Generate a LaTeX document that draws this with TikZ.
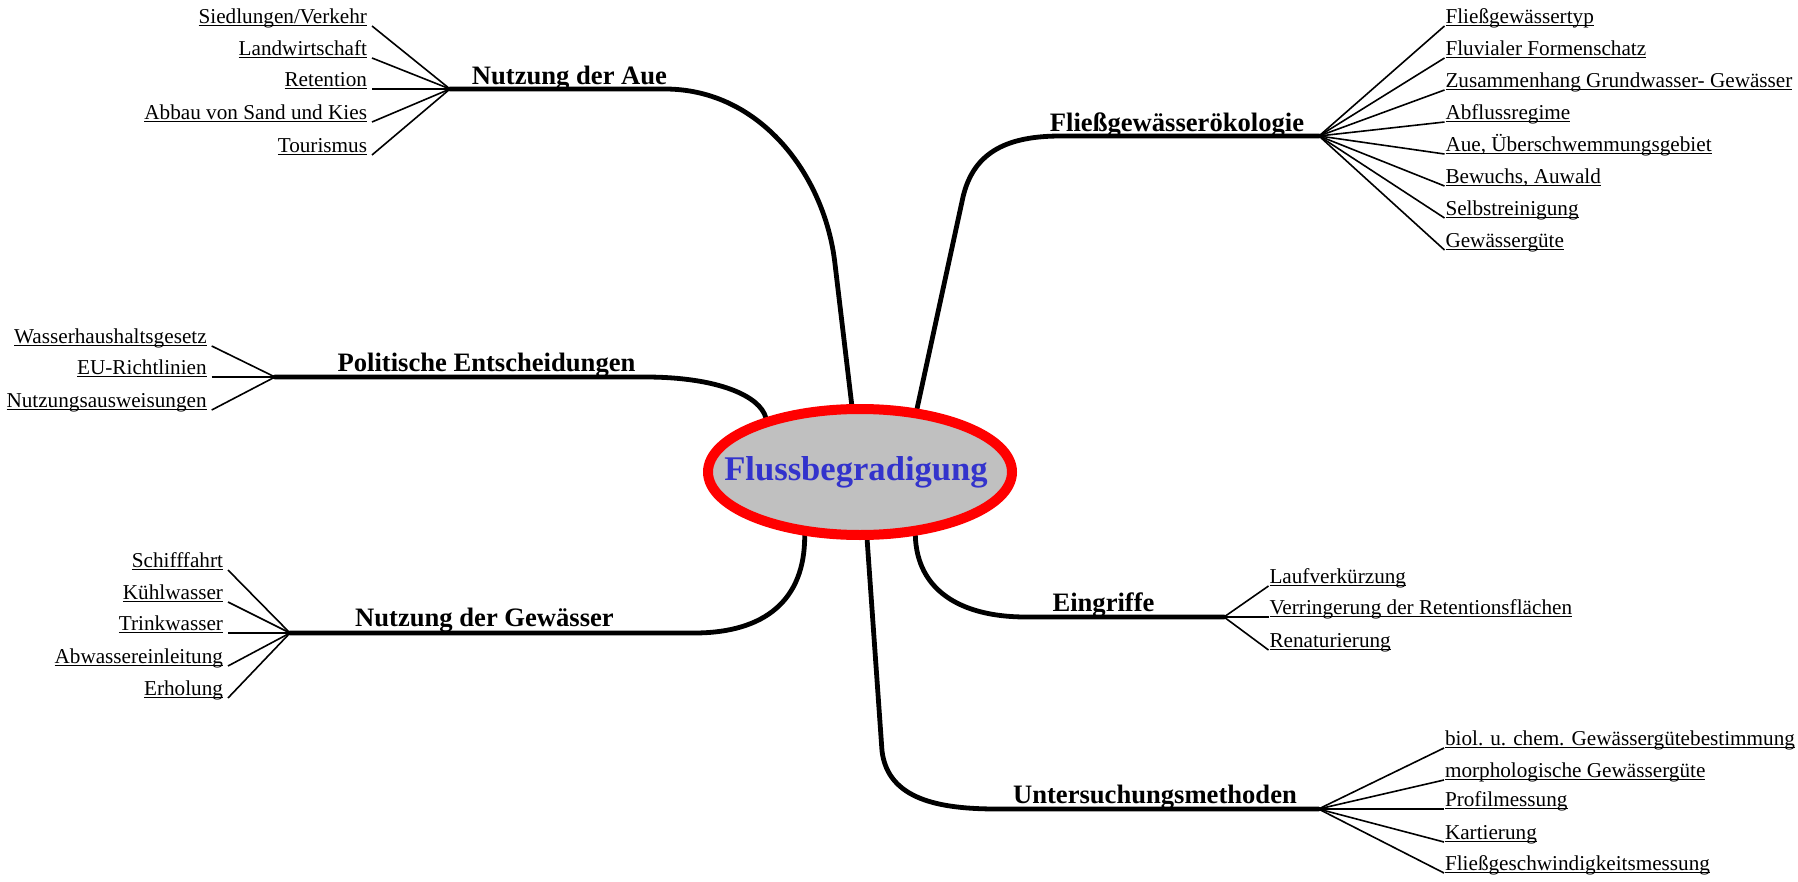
\documentclass[tikz,border=0pt]{standalone}
\usepackage{fontspec}
\setmainfont{Liberation Serif}
\usetikzlibrary{shapes.geometric}
\pgfdeclarelayer{bg}
\pgfsetlayers{bg,main}
\definecolor{flblue}{RGB}{51,51,204}
\definecolor{flgray}{RGB}{192,192,192}
\definecolor{flred}{RGB}{255,0,0}
\newcommand\myul[1]{\setbox0\hbox{#1}\dp0=0pt\leavevmode\rlap{\rule[-1.3pt]{\wd0}{0.6pt}}\box0}
\begin{document}
\begin{tikzpicture}[x=0.5pt,y=-0.5pt,
  leafL/.style={anchor=south east, inner sep=0pt, outer xsep=2.5pt, outer ysep=0pt, font=\fontsize{10.6}{12}\selectfont},
  leafR/.style={anchor=south west, inner sep=0pt, outer xsep=0.5pt, outer ysep=0pt, font=\fontsize{10.6}{12}\selectfont},
  brtitle/.style={anchor=base, inner sep=0pt, font=\fontsize{13.3}{15}\selectfont\bfseries},
  branch/.style={line width=2.4pt, line cap=round},
  twig/.style={line width=0.8pt},
  mainnode/.style={ellipse, draw=flred, fill=flgray, line width=5pt, minimum width=152pt, minimum height=63pt, inner sep=0pt, text=flblue, font=\fontsize{17.3}{20}\selectfont\bfseries}
]
\useasboundingbox (0,0) rectangle (1798,882);

% centre
\node[mainnode] (fl) at (860,472) {\makebox[0pt]{\kern-4pt\raisebox{-1.8pt}{Flussbegradigung}}};

% hubs
\coordinate (hubA) at (450,89);
\coordinate (hubF) at (1319,136);
\coordinate (hubP) at (275,377);
\coordinate (hubG) at (290,633);
\coordinate (hubE) at (1224,617);
\coordinate (hubU) at (1318.5,809);

% titles
\node[brtitle] (tA) at (569.5,85) {Nutzung der Aue};
\node[brtitle] (tF) at (1177,132) {Fließgewässerökologie};
\node[brtitle] (tP) at (486.5,371) {Politische Entscheidungen};
\node[brtitle] (tG) at (484.5,626) {Nutzung der Gewässer};
\node[brtitle] (tE) at (1103.5,611) {Eingriffe};
\node[brtitle] (tU) at (1155,803) {Untersuchungsmethoden};

% leaves: Nutzung der Aue
\node[leafL] (a1) at (372,26) {\myul{Siedlungen/Verkehr}};
\node[leafL] (a2) at (372,58) {\myul{Landwirtschaft}};
\node[leafL] (a3) at (372,89) {\myul{Retention}};
\node[leafL] (a4) at (372,122) {\myul{Abbau von Sand und Kies}};
\node[leafL] (a5) at (372,155) {\myul{Tourismus}};

% leaves: Politische Entscheidungen
\node[leafL] (p1) at (211.7,346) {\myul{Wasserhaushaltsgesetz}};
\node[leafL] (p2) at (211.7,377) {\myul{EU-Richtlinien}};
\node[leafL] (p3) at (211.7,410) {\myul{Nutzungsausweisungen}};

% leaves: Nutzung der Gewässer
\node[leafL] (g1) at (228,570) {\myul{Schifffahrt}};
\node[leafL] (g2) at (228,602) {\myul{Kühlwasser}};
\node[leafL] (g3) at (228,633) {\myul{Trinkwasser}};
\node[leafL] (g4) at (228,666) {\myul{Abwassereinleitung}};
\node[leafL] (g5) at (228,698) {\myul{Erholung}};

% leaves: Fließgewässerökologie
\node[leafR] (f1) at (1444.5,26) {\myul{Fließgewässertyp}};
\node[leafR] (f2) at (1444.5,58) {\myul{Fluvialer Formenschatz}};
\node[leafR] (f3) at (1444.5,90) {\myul{Zusammenhang Grundwasser- Gewässer}};
\node[leafR] (f4) at (1444.5,122) {\myul{Abflussregime}};
\node[leafR] (f5) at (1444.5,154) {\myul{Aue, Überschwemmungsgebiet}};
\node[leafR] (f6) at (1444.5,186) {\myul{Bewuchs, Auwald}};
\node[leafR] (f7) at (1444.5,218) {\myul{Selbstreinigung}};
\node[leafR] (f8) at (1444.5,250) {\myul{Gewässergüte}};

% leaves: Eingriffe
\node[leafR] (e1) at (1268.5,586) {\myul{Laufverkürzung}};
\node[leafR] (e2) at (1268.5,617) {\myul{Verringerung der Retentionsflächen}};
\node[leafR] (e3) at (1268.5,650) {\myul{Renaturierung}};

% leaves: Untersuchungsmethoden
\node[leafR] (u1) at (1444,748) {\myul{biol. u. chem. Gewässergütebestimmung}};
\node[leafR] (u2) at (1444,780) {\myul{morphologische Gewässergüte}};
\node[leafR] (u3) at (1444,809) {\myul{Profilmessung}};
\node[leafR] (u4) at (1444,842) {\myul{Kartierung}};
\node[leafR] (u5) at (1444,873) {\myul{Fließgeschwindigkeitsmessung}};

\begin{pgfonlayer}{bg}
% main branches
\draw[branch] (fl.97.5) -- (835,264) .. controls (825,175) and (760,89) .. (665,89) -- (hubA);
\draw[branch] (fl.48.8) -- (963,197) .. controls (974,150) and (1010,136) .. (1061,136) -- (hubF);
\draw[branch] (fl.150.6) .. controls (760,396) and (718,377) .. (645,377) -- (hubP);
\draw[branch] (fl.229.8) .. controls (805,600) and (765,633) .. (694,633) -- (hubG);
\draw[branch] (fl.311.2) .. controls (917,590) and (960,617) .. (1026,617) -- (hubE);
\draw[branch] (fl.276.5) -- (882,751) .. controls (888,800) and (940,809) .. (997,809) -- (hubU);

% twigs
\foreach \n in {a1,a2,a3,a4,a5} \draw[twig] (\n.south east) -- (hubA);
\foreach \n in {p1,p2,p3} \draw[twig] (\n.south east) -- (hubP);
\foreach \n in {g1,g2,g3,g4,g5} \draw[twig] (\n.south east) -- (hubG);
\foreach \n in {f1,f2,f3,f4,f5,f6,f7,f8} \draw[twig] (hubF) -- (\n.south west);
\foreach \n in {e1,e2,e3} \draw[twig] (hubE) -- (\n.south west);
\foreach \n in {u1,u2,u3,u4,u5} \draw[twig] (hubU) -- (\n.south west);
\end{pgfonlayer}
\end{tikzpicture}
\end{document}
